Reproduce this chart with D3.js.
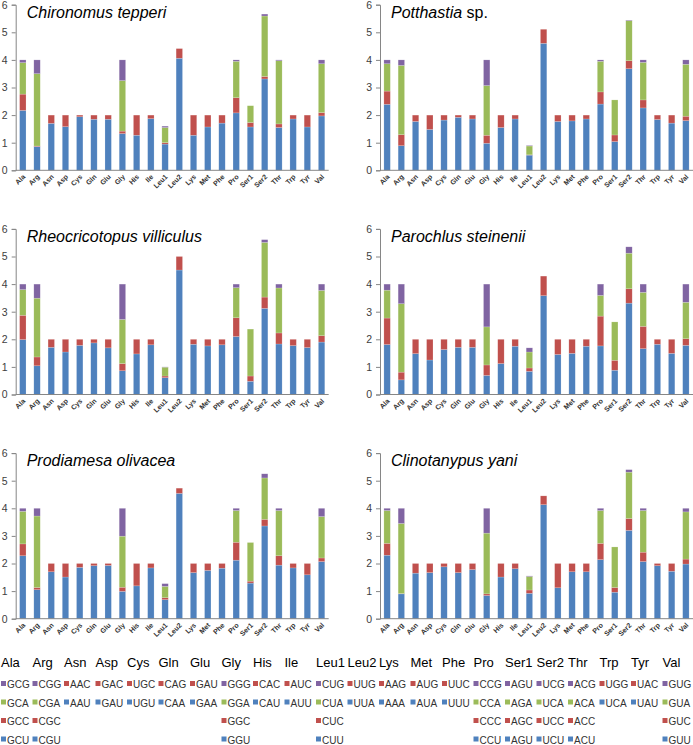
<!DOCTYPE html>
<html>
<head>
<meta charset="utf-8">
<script src="https://cdn.jsdelivr.net/npm/d3@7"></script>
<style>
  html, body { margin: 0; padding: 0; background: #fff; }
  svg { display: block; font-family: "Liberation Sans", Arial, sans-serif; }
</style>
</head>
<body>
<svg id="chart" width="693" height="745"></svg>
<script>
// ---------- DATA ----------
const aminoAcids = ["Ala","Arg","Asn","Asp","Cys","Gln","Glu","Gly","His","Ile","Leu1","Leu2","Lys","Met","Phe","Pro","Ser1","Ser2","Thr","Trp","Tyr","Val"];
const yTicks = [0,1,2,3,4,5,6];

const speciesNames = [
  {genus: "Chironomus tepperi", rest: ""},
  {genus: "Potthastia", rest: " sp."},
  {genus: "Rheocricotopus villiculus", rest: ""},
  {genus: "Parochlus steinenii", rest: ""},
  {genus: "Prodiamesa olivacea", rest: ""},
  {genus: "Clinotanypus yani", rest: ""}
];

// each species: [codon1 (blue), codon2 (red), codon3 (green), codon4 (purple)] RSCU values per amino acid
const chironomusTepperi = [
  [2.17,0.86,1.70,1.58,1.94,1.85,1.85,1.33,1.27,1.87,0.95,4.06,1.27,1.57,1.71,2.08,1.57,3.31,1.55,1.86,1.57,1.97],
  [0.59,0.02,0.30,0.42,0.06,0.15,0.15,0.09,0.73,0.13,0.05,0.35,0.73,0.43,0.29,0.55,0.16,0.09,0.13,0.14,0.43,0.12],
  [1.14,2.62,0,0,0,0,0,1.83,0,0,0.55,0,0,0,0,1.32,0.61,2.19,2.29,0,0,1.77],
  [0.10,0.50,0,0,0,0,0,0.75,0,0,0.05,0,0,0,0,0.05,0,0.07,0.03,0,0,0.14]
];
const potthastiaSp = [
  [2.39,0.89,1.77,1.48,1.82,1.92,1.86,0.98,1.55,1.86,0.55,4.60,1.77,1.79,1.86,2.40,1.04,3.68,2.26,1.84,1.71,1.80],
  [0.48,0.40,0.23,0.52,0.18,0.08,0.14,0.29,0.45,0.14,0.01,0.51,0.23,0.21,0.14,0.44,0.24,0.29,0.29,0.16,0.29,0.16],
  [0.99,2.51,0,0,0,0,0,1.80,0,0,0.32,0,0,0,0,1.11,1.27,1.45,1.36,0,0,1.88],
  [0.14,0.20,0,0,0,0,0,0.93,0,0,0.02,0,0,0,0,0.05,0,0.02,0.09,0,0,0.16]
];
const rheocricotopusVilliculus = [
  [1.99,1.04,1.71,1.54,1.78,1.87,1.69,0.86,1.47,1.80,0.61,4.51,1.82,1.76,1.80,2.10,0.48,3.12,1.83,1.77,1.70,1.90],
  [0.88,0.32,0.29,0.46,0.22,0.13,0.31,0.26,0.53,0.20,0.06,0.49,0.18,0.24,0.20,0.68,0.19,0.41,0.40,0.23,0.30,0.23],
  [0.93,2.13,0,0,0,0,0,1.60,0,0,0.32,0,0,0,0,1.09,1.70,1.98,1.63,0,0,1.64],
  [0.20,0.51,0,0,0,0,0,1.28,0,0,0.01,0,0,0,0,0.13,0,0.10,0.14,0,0,0.23]
];
const parochlusSteinenii = [
  [1.81,0.53,1.48,1.25,1.63,1.71,1.71,0.69,1.12,1.75,0.84,3.58,1.45,1.49,1.75,1.76,0.88,3.31,1.66,1.82,1.49,1.78],
  [0.96,0.28,0.52,0.75,0.37,0.29,0.29,0.38,0.88,0.25,0.12,0.71,0.55,0.51,0.25,1.08,0.36,0.52,0.81,0.18,0.51,0.24],
  [1.01,2.48,0,0,0,0,0,1.38,0,0,0.58,0,0,0,0,0.75,1.39,1.29,1.23,0,0,1.32],
  [0.22,0.71,0,0,0,0,0,1.55,0,0,0.15,0,0,0,0,0.41,0,0.23,0.30,0,0,0.66]
];
const prodiamesaOlivacea = [
  [2.28,1.05,1.70,1.51,1.86,1.92,1.93,0.99,1.19,1.84,0.69,4.54,1.67,1.75,1.83,2.12,1.29,3.36,1.94,1.84,1.59,2.07],
  [0.43,0.08,0.30,0.49,0.14,0.08,0.07,0.15,0.81,0.16,0.07,0.19,0.33,0.25,0.17,0.65,0.07,0.24,0.34,0.16,0.41,0.13],
  [1.18,2.59,0,0,0,0,0,1.85,0,0,0.41,0,0,0,0,1.15,1.40,1.50,1.64,0,0,1.50],
  [0.11,0.28,0,0,0,0,0,1.01,0,0,0.10,0,0,0,0,0.08,0,0.15,0.08,0,0,0.30]
];
const clinotanypusYani = [
  [2.30,0.90,1.65,1.67,1.88,1.67,1.78,0.84,1.51,1.81,0.92,4.13,1.12,1.70,1.70,2.14,0.96,3.20,2.07,1.92,1.72,1.98],
  [0.43,0.01,0.35,0.33,0.12,0.33,0.22,0.06,0.49,0.19,0.12,0.32,0.88,0.30,0.30,0.59,0.17,0.43,0.34,0.08,0.28,0.18],
  [1.19,2.54,0,0,0,0,0,2.20,0,0,0.49,0,0,0,0,1.19,1.47,1.68,1.51,0,0,1.71],
  [0.08,0.55,0,0,0,0,0,0.90,0,0,0.02,0,0,0,0,0.08,0,0.09,0.08,0,0,0.13]
];
const speciesData = [chironomusTepperi, potthastiaSp, rheocricotopusVilliculus, parochlusSteinenii, prodiamesaOlivacea, clinotanypusYani];

// legend codon names: codon1 (blue), codon2 (red), codon3 (green), codon4 (purple)
const codon1 = ["GCU","CGU","AAU","GAU","UGU","CAA","GAA","GGU","CAU","AUU","CUU","UUA","AAA","AUA","UUU","CCU","AGU","UCU","ACU","UCA","UAU","GUU"];
const codon2 = ["GCC","CGC","AAC","GAC","UGC","CAG","GAU","GGC","CAC","AUC","CUC","UUG","AAG","AUG","UUC","CCC","AGC","UCC","ACC","UGG","UAC","GUC"];
const codon3 = ["GCA","CGA","","","","","","GGA","","","CUA","","","","","CCA","AGA","UCA","ACA","","","GUA"];
const codon4 = ["GCG","CGG","","","","","","GGG","","","CUG","","","","","CCG","AGU","UCG","ACG","","","GUG"];

const codonColors = ["#4F81BD","#C0504D","#9BBB59","#8064A2"];

// ---------- LAYOUT ----------
const svg = d3.select("#chart");
const panelAxisX = [15.7, 380];
const panelZeroY = [170.3, 394.5, 618.7];
const plotW = 313;
const plotH = 165.6;

speciesData.forEach((sp, si) => {
  const col = si % 2, row = Math.floor(si / 2);
  const x0 = panelAxisX[col], y0 = panelZeroY[row];
  const x = d3.scaleBand().domain(aminoAcids).range([x0, x0 + plotW]).paddingInner(0.55).paddingOuter(0.275);
  const y = d3.scaleLinear().domain([0, 6]).range([y0, y0 - plotH]);
  const g = svg.append("g");

  const rows = aminoAcids.map((aa, i) => ({aa, c0: sp[0][i], c1: sp[1][i], c2: sp[2][i], c3: sp[3][i]}));
  const stack = d3.stack().keys(["c0","c1","c2","c3"])(rows);

  g.selectAll("g.layer").data(stack).join("g")
    .attr("fill", (d, i) => codonColors[i])
    .selectAll("rect").data(d => d.filter(v => v[1] - v[0] > 0)).join("rect")
      .attr("x", d => x(d.data.aa))
      .attr("width", x.bandwidth())
      .attr("y", d => y(d[1]))
      .attr("height", d => y(d[0]) - y(d[1]))
      .attr("stroke", "rgba(255,255,255,0.35)")
      .attr("stroke-width", 0.5);

  const ya = g.append("g").attr("transform", `translate(${x0},0)`)
    .call(d3.axisLeft(y).tickValues(yTicks).tickSize(4).tickPadding(4).tickFormat(d3.format("d")));
  ya.select(".domain").attr("stroke", "#868686");
  ya.selectAll(".tick line").attr("stroke", "#868686");
  ya.selectAll(".tick text").attr("fill", "#404040").style("font-size", "10.5px");

  g.append("line").attr("x1", x0).attr("x2", x0 + plotW).attr("y1", y0).attr("y2", y0)
    .attr("stroke", "#868686").attr("stroke-width", 1);

  g.selectAll("text.xl").data(aminoAcids).join("text")
    .attr("class", "xl")
    .attr("transform", d => `translate(${x(d) + x.bandwidth() / 2 + 3},${y0 + 7}) rotate(-45)`)
    .attr("text-anchor", "end")
    .attr("fill", "#333")
    .style("font-size", "7px")
    .style("font-weight", "bold")
    .text(d => d);

  const t = g.append("text").attr("x", x0 + 11).attr("y", y0 - plotH + 13)
    .style("font-size", "16px").attr("fill", "#000");
  t.append("tspan").style("font-style", "italic").text(speciesNames[si].genus);
  if (speciesNames[si].rest) t.append("tspan").text(speciesNames[si].rest);
});

// ---------- LEGEND TABLE ----------
const lx = d3.scaleBand().domain(aminoAcids).range([1, 1 + 31.5 * 22]).padding(0);
const leg = svg.append("g");
leg.selectAll("text.hdr").data(aminoAcids).join("text")
  .attr("class", "hdr")
  .attr("x", d => lx(d)).attr("y", 667)
  .style("font-size", "13px").attr("fill", "#000")
  .text(d => d);

const rowY = [688, 706.5, 725, 743.5];
const legendItems = [];
aminoAcids.forEach((aa, i) => {
  const names = [codon1[i], codon2[i], codon3[i], codon4[i]];
  const present = [3, 2, 1, 0].filter(k => names[k]);
  present.forEach((k, r) => legendItems.push({aa, name: names[k], color: codonColors[k], row: r}));
});
const li = leg.selectAll("g.li").data(legendItems).join("g").attr("class", "li")
  .attr("transform", d => `translate(${lx(d.aa)},${rowY[d.row]})`);
li.append("rect").attr("x", 0).attr("y", -7).attr("width", 5).attr("height", 5).attr("fill", d => d.color);
li.append("text").attr("x", 6).attr("y", 0).style("font-size", "10px").attr("fill", "#333").text(d => d.name);
</script>
</body>
</html>
